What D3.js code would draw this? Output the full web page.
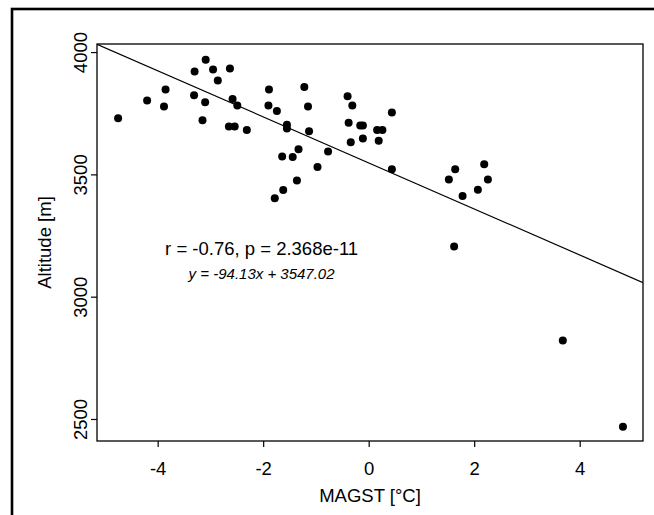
<!DOCTYPE html>
<html>
<head>
<meta charset="utf-8">
<script src="https://cdn.jsdelivr.net/npm/d3@7"></script>
<style>
  body { margin: 0; background: #fff; }
  text { font-family: "Liberation Sans", Arial, Helvetica, sans-serif; fill: #000; }
</style>
</head>
<body>
<svg id="plot" width="654" height="515"></svg>
<script>
// MAGST (°C) and altitude (m)
const magst = [
  -4.75, -4.20, -3.85, -3.88, -3.30, -3.09, -2.95, -2.86, -2.63, -3.31,
  -3.10, -3.15, -2.58, -2.49, -2.65, -2.54, -2.31, -1.89, -1.90, -1.74,
  -1.55, -1.55, -1.22, -1.15, -1.13, -1.64, -1.44, -1.33, -0.97, -0.77,
  -1.36, -1.62, -1.78, -0.40, -0.31, -0.38, -0.34, -0.16, -0.11, -0.11,
  0.16, 0.26, 0.19, 0.44, 0.44, 1.64, 1.52, 2.19, 2.26, 2.07,
  1.78, 1.62, 3.68, 4.82
];
const altitude = [
  3729, 3802, 3847, 3778, 3921, 3969, 3929, 3884, 3933, 3823,
  3795, 3721, 3808, 3782, 3696, 3696, 3681, 3847, 3782, 3759,
  3703, 3688, 3857, 3778, 3676, 3573, 3571, 3603, 3530, 3594,
  3475, 3436, 3402, 3819, 3782, 3711, 3631, 3700, 3700, 3647,
  3681, 3681, 3637, 3753, 3521, 3521, 3479, 3541, 3479, 3437,
  3412, 3205, 2821, 2468
];
const xTicks = [-4, -2, 0, 2, 4];
const yTicks = [2500, 3000, 3500, 4000];
const slope = -94.13;
const intercept = 3547.02;
const statLabel = "r = -0.76, p = 2.368e-11";
const eqLabel = "y = -94.13x + 3547.02";

const data = magst.map((m, i) => ({ x: m, y: altitude[i] }));

const svg = d3.select("#plot");
const plot = { left: 97, right: 643, top: 44, bottom: 441 };

// outer frame (runs off the right and bottom edges)
svg.append("rect")
  .attr("x", 12).attr("y", 9)
  .attr("width", 800).attr("height", 800)
  .attr("fill", "none")
  .attr("stroke", "#000")
  .attr("stroke-width", 2.6);

const xScale = d3.scaleLinear()
  .domain([-5.15, 5.2])
  .range([plot.left, plot.right]);

const yScale = d3.scaleLinear()
  .domain([2410, 4033])
  .range([plot.bottom, plot.top]);

// x axis: ticks only, the box gives the line
const xAxis = d3.axisBottom(xScale)
  .tickValues(xTicks)
  .tickFormat(d3.format("d"))
  .tickSize(6)
  .tickSizeOuter(0)
  .tickPadding(18);

const xAxisG = svg.append("g")
  .attr("transform", `translate(0, ${plot.bottom})`)
  .call(xAxis);
xAxisG.select(".domain").remove();
xAxisG.selectAll(".tick line").attr("stroke", "#000").attr("stroke-width", 1.2);
xAxisG.selectAll(".tick text")
  .attr("font-size", 18.5)
  .attr("font-family", "Liberation Sans, Arial, sans-serif")
  .attr("dy", null)
  .attr("y", 34)
  .text(d => d3.format("d")(d).replace("−", "-"));

const yAxis = d3.axisLeft(yScale)
  .tickValues(yTicks)
  .tickSize(6)
  .tickSizeOuter(0)
  .tickFormat(d3.format("d"));

const yAxisG = svg.append("g")
  .attr("transform", `translate(${plot.left}, 0)`)
  .call(yAxis);
yAxisG.select(".domain").remove();
yAxisG.selectAll(".tick line").attr("stroke", "#000").attr("stroke-width", 1.2);
// R style: tick labels parallel to the axis
yAxisG.selectAll(".tick text")
  .attr("font-size", 18.5)
  .attr("font-family", "Liberation Sans, Arial, sans-serif")
  .attr("x", null).attr("dy", null)
  .attr("text-anchor", "middle")
  .attr("transform", "translate(-10, 0) rotate(-90)");

// plot box
svg.append("rect")
  .attr("x", plot.left).attr("y", plot.top)
  .attr("width", plot.right - plot.left)
  .attr("height", plot.bottom - plot.top)
  .attr("fill", "none")
  .attr("stroke", "#000")
  .attr("stroke-width", 1.3);

svg.append("clipPath").attr("id", "clip")
  .append("rect")
  .attr("x", plot.left).attr("y", plot.top)
  .attr("width", plot.right - plot.left)
  .attr("height", plot.bottom - plot.top);

// regression line
const [x0, x1] = xScale.domain();
svg.append("line")
  .attr("clip-path", "url(#clip)")
  .attr("x1", xScale(x0)).attr("y1", yScale(slope * x0 + intercept))
  .attr("x2", xScale(x1)).attr("y2", yScale(slope * x1 + intercept))
  .attr("stroke", "#000")
  .attr("stroke-width", 1.2);

svg.append("g")
  .selectAll("circle")
  .data(data)
  .enter()
  .append("circle")
  .attr("cx", d => xScale(d.x))
  .attr("cy", d => yScale(d.y))
  .attr("r", 4)
  .attr("fill", "#000");

// annotation
svg.append("text")
  .attr("x", xScale(-2.03))
  .attr("y", 255)
  .attr("text-anchor", "middle")
  .attr("font-size", 18.5)
  .text(statLabel);

svg.append("text")
  .attr("x", xScale(-2.03))
  .attr("y", 279)
  .attr("text-anchor", "middle")
  .attr("font-size", 15)
  .attr("font-style", "italic")
  .text(eqLabel);

// axis titles
svg.append("text")
  .attr("x", (plot.left + plot.right) / 2)
  .attr("y", 502)
  .attr("text-anchor", "middle")
  .attr("font-size", 18.5)
  .text("MAGST [°C]");

svg.append("text")
  .attr("transform", `translate(51, ${(plot.top + plot.bottom) / 2}) rotate(-90)`)
  .attr("text-anchor", "middle")
  .attr("font-size", 18.5)
  .text("Altitude [m]");
</script>
</body>
</html>
